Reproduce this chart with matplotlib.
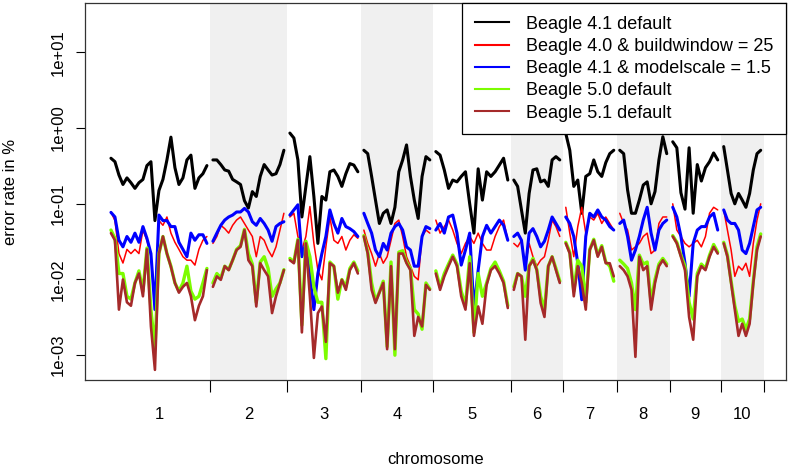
import matplotlib
matplotlib.use("Agg")
import matplotlib.pyplot as plt
from matplotlib.lines import Line2D
import numpy as np

plt.rcParams['font.family'] = ['Liberation Sans', 'DejaVu Sans']

# chromosome layout (Mb)
chromosomes = ['1', '2', '3', '4', '5', '6', '7', '8', '9', '10']
chrom_len = [306, 231, 222, 216, 234, 156, 162, 159, 153, 129]
window_margin = 9  # first / last window centre from the chromosome end

labels = ['Beagle 4.1 default', 'Beagle 4.0 & buildwindow = 25',
          'Beagle 4.1 & modelscale = 1.5', 'Beagle 5.0 default', 'Beagle 5.1 default']

# error rate in %, one list per chromosome (windows evenly spread along it)
beagle41_default = [
    [0.40, 0.36, 0.24, 0.18, 0.22, 0.19, 0.16, 0.19, 0.21, 0.32, 0.36, 0.06, 0.15, 0.21, 0.38, 0.76, 0.30, 0.18, 0.22, 0.38, 0.44, 0.16, 0.22, 0.25, 0.32],
    [0.38, 0.38, 0.33, 0.28, 0.27, 0.21, 0.195, 0.18, 0.11, 0.088, 0.145, 0.125, 0.23, 0.33, 0.28, 0.24, 0.25, 0.33, 0.51],
    [0.86, 0.74, 0.38, 0.067, 0.17, 0.42, 0.125, 0.03, 0.125, 0.112, 0.265, 0.28, 0.23, 0.17, 0.25, 0.34, 0.325, 0.265],
    [0.51, 0.46, 0.23, 0.112, 0.055, 0.075, 0.083, 0.055, 0.09, 0.265, 0.38, 0.6, 0.23, 0.112, 0.064, 0.23, 0.42, 0.38],
    [0.49, 0.44, 0.28, 0.16, 0.206, 0.195, 0.23, 0.265, 0.1, 0.041, 0.29, 0.112, 0.265, 0.23, 0.265, 0.325, 0.4, 0.206],
    [0.206, 0.17, 0.083, 0.041, 0.137, 0.28, 0.29, 0.195, 0.206, 0.17, 0.38, 0.42, 0.38],
    [0.85, 0.51, 0.17, 0.206, 0.075, 0.23, 0.25, 0.38, 0.265, 0.23, 0.35, 0.46, 0.51],
    [0.51, 0.46, 0.152, 0.075, 0.075, 0.112, 0.177, 0.195, 0.1, 0.145, 0.38, 0.77, 0.46],
    [0.66, 0.55, 0.14, 0.085, 0.55, 0.075, 0.33, 0.2, 0.3, 0.36, 0.47, 0.38],
    [0.57, 0.28, 0.137, 0.1, 0.137, 0.112, 0.09, 0.137, 0.28, 0.46, 0.51],
]
beagle40_bw25 = [
    [0.078, 0.06, 0.022, 0.0165, 0.025, 0.022, 0.025, 0.022, 0.045, 0.033, 0.02, 0.006, 0.06, 0.052, 0.067, 0.041, 0.031, 0.025, 0.02, 0.018, 0.018, 0.0155, 0.025, 0.033, 0.037],
    [0.030, 0.037, 0.052, 0.047, 0.041, 0.052, 0.061, 0.067, 0.055, 0.045, 0.037, 0.020, 0.037, 0.033, 0.0245, 0.020, 0.027, 0.045, 0.075],
    [0.067, 0.075, 0.037, 0.0245, 0.037, 0.092, 0.03, 0.0133, 0.0099, 0.027, 0.067, 0.033, 0.030, 0.037, 0.0245, 0.033, 0.039, 0.035],
    [0.045, 0.03, 0.022, 0.015, 0.022, 0.0164, 0.02, 0.033, 0.055, 0.061, 0.037, 0.02, 0.015, 0.011, 0.0099, 0.037, 0.045, 0.041],
    [0.061, 0.041, 0.05, 0.061, 0.045, 0.03, 0.022, 0.03, 0.037, 0.03, 0.041, 0.03, 0.0245, 0.0245, 0.037, 0.05, 0.061, 0.033],
    [0.03, 0.027, 0.033, 0.015, 0.03, 0.02, 0.015, 0.018, 0.02, 0.033, 0.061, 0.05, 0.037],
    [0.09, 0.041, 0.02, 0.05, 0.09, 0.041, 0.067, 0.061, 0.075, 0.055, 0.067, 0.055, 0.045],
    [0.075, 0.055, 0.045, 0.0245, 0.027, 0.03, 0.037, 0.041, 0.022, 0.0245, 0.055, 0.067, 0.067],
    [0.1, 0.045, 0.037, 0.03, 0.027, 0.03, 0.033, 0.027, 0.037, 0.075, 0.09, 0.083],
    [0.083, 0.045, 0.0245, 0.011, 0.015, 0.0133, 0.0164, 0.011, 0.03, 0.061, 0.1],
]
beagle41_ms15 = [
    [0.077, 0.067, 0.033, 0.027, 0.037, 0.031, 0.041, 0.031, 0.05, 0.035, 0.022, 0.004, 0.071, 0.06, 0.06, 0.05, 0.05, 0.031, 0.025, 0.02, 0.041, 0.033, 0.039, 0.039, 0.030],
    [0.032, 0.041, 0.052, 0.061, 0.067, 0.071, 0.078, 0.078, 0.087, 0.078, 0.058, 0.052, 0.064, 0.055, 0.045, 0.032, 0.05, 0.055, 0.058],
    [0.071, 0.083, 0.097, 0.02, 0.03, 0.011, 0.004, 0.012, 0.022, 0.037, 0.083, 0.055, 0.041, 0.064, 0.05, 0.047, 0.043, 0.037],
    [0.075, 0.055, 0.041, 0.0245, 0.02, 0.03, 0.0245, 0.041, 0.05, 0.055, 0.045, 0.027, 0.0245, 0.015, 0.015, 0.037, 0.05, 0.047],
    [0.045, 0.055, 0.041, 0.067, 0.071, 0.041, 0.0155, 0.0245, 0.041, 0.004, 0.0133, 0.037, 0.052, 0.041, 0.05, 0.061, 0.052, 0.033],
    [0.037, 0.041, 0.033, 0.0133, 0.041, 0.047, 0.037, 0.027, 0.032, 0.045, 0.067, 0.055, 0.045],
    [0.067, 0.055, 0.037, 0.0164, 0.0054, 0.037, 0.075, 0.067, 0.083, 0.067, 0.061, 0.05, 0.045],
    [0.055, 0.061, 0.037, 0.018, 0.0245, 0.037, 0.061, 0.09, 0.041, 0.0245, 0.045, 0.055, 0.061],
    [0.09, 0.067, 0.037, 0.0164, 0.006, 0.03, 0.045, 0.05, 0.05, 0.067, 0.075, 0.045],
    [0.083, 0.061, 0.055, 0.055, 0.045, 0.0245, 0.022, 0.03, 0.05, 0.083, 0.09],
]
beagle50_default = [
    [0.045, 0.035, 0.012, 0.012, 0.006, 0.0055, 0.009, 0.013, 0.007, 0.026, 0.004, 0.0012, 0.022, 0.037, 0.022, 0.015, 0.009, 0.007, 0.009, 0.015, 0.007, 0.0055, 0.006, 0.009, 0.014],
    [0.009, 0.012, 0.0105, 0.015, 0.0135, 0.018, 0.025, 0.028, 0.046, 0.022, 0.016, 0.005, 0.017, 0.02, 0.014, 0.006, 0.0075, 0.009, 0.0135],
    [0.019, 0.017, 0.034, 0.0025, 0.032, 0.02, 0.008, 0.005, 0.005, 0.0009, 0.017, 0.015, 0.0055, 0.01, 0.008, 0.014, 0.017, 0.013],
    [0.038, 0.023, 0.009, 0.0052, 0.0068, 0.0095, 0.0013, 0.017, 0.001, 0.023, 0.024, 0.017, 0.014, 0.004, 0.0035, 0.0022, 0.009, 0.0075],
    [0.013, 0.008, 0.012, 0.016, 0.021, 0.016, 0.007, 0.0045, 0.02, 0.002, 0.012, 0.006, 0.009, 0.014, 0.017, 0.013, 0.0095, 0.0045],
    [0.008, 0.012, 0.011, 0.006, 0.015, 0.019, 0.0135, 0.006, 0.004, 0.015, 0.02, 0.014, 0.0095],
    [0.031, 0.023, 0.007, 0.018, 0.015, 0.005, 0.025, 0.034, 0.021, 0.028, 0.017, 0.015, 0.0095],
    [0.018, 0.016, 0.014, 0.009, 0.004, 0.021, 0.016, 0.017, 0.005, 0.01, 0.016, 0.019, 0.016],
    [0.038, 0.031, 0.021, 0.015, 0.005, 0.003, 0.012, 0.016, 0.014, 0.021, 0.029, 0.023],
    [0.031, 0.021, 0.0095, 0.0045, 0.0028, 0.003, 0.0022, 0.003, 0.0095, 0.027, 0.04],
]
beagle51_default = [
    [0.041, 0.033, 0.004, 0.01, 0.005, 0.0045, 0.009, 0.012, 0.006, 0.025, 0.0024, 0.00064, 0.022, 0.037, 0.022, 0.0147, 0.009, 0.0067, 0.008, 0.009, 0.006, 0.0029, 0.0045, 0.006, 0.0133],
    [0.008, 0.011, 0.0099, 0.015, 0.0133, 0.018, 0.0245, 0.027, 0.045, 0.018, 0.015, 0.0044, 0.0164, 0.0133, 0.011, 0.0036, 0.006, 0.0089, 0.0133],
    [0.018, 0.0164, 0.033, 0.002, 0.03, 0.006, 0.00092, 0.0036, 0.0044, 0.0015, 0.0164, 0.015, 0.0067, 0.0099, 0.0073, 0.0133, 0.0164, 0.012],
    [0.037, 0.022, 0.0073, 0.0049, 0.0067, 0.009, 0.0012, 0.015, 0.0012, 0.022, 0.022, 0.0164, 0.0133, 0.0018, 0.0032, 0.0024, 0.0085, 0.0073],
    [0.012, 0.0073, 0.011, 0.015, 0.02, 0.015, 0.006, 0.004, 0.0164, 0.0018, 0.0044, 0.0026, 0.0085, 0.0133, 0.015, 0.012, 0.009, 0.0042],
    [0.0073, 0.012, 0.011, 0.0016, 0.015, 0.018, 0.0133, 0.0049, 0.0032, 0.015, 0.02, 0.0133, 0.009],
    [0.03, 0.022, 0.006, 0.015, 0.009, 0.004, 0.0245, 0.033, 0.02, 0.027, 0.0164, 0.0164, 0.011],
    [0.015, 0.0133, 0.011, 0.0073, 0.00095, 0.02, 0.0133, 0.015, 0.004, 0.009, 0.015, 0.018, 0.015],
    [0.037, 0.03, 0.02, 0.0133, 0.0032, 0.0016, 0.011, 0.015, 0.0133, 0.02, 0.027, 0.022],
    [0.03, 0.02, 0.009, 0.004, 0.0018, 0.0026, 0.0018, 0.0026, 0.009, 0.0245, 0.037],
]

series = [beagle41_default, beagle40_bw25, beagle41_ms15, beagle50_default, beagle51_default]
colors = ['black', 'red', 'blue', '#7cfc00', '#a52a2a']
widths = [2.2, 1.1, 2.2, 2.4, 1.9]

ends = np.cumsum(chrom_len)
starts = ends - np.array(chrom_len)
total = ends[-1]

fig = plt.figure(figsize=(7.89, 4.66), dpi=100)
ax = fig.add_axes([85 / 789, 1 - 380 / 466, 701 / 789, 377 / 466])

# grey background for every second chromosome
for i in range(1, 10, 2):
    ax.axvspan(starts[i], ends[i], color='#f0f0f0', lw=0, zorder=0)

for vals, col, lw in zip(series, colors, widths):
    for c in range(len(chromosomes)):
        x = np.linspace(starts[c] + window_margin, ends[c] - window_margin, len(vals[c]))
        ax.plot(x, vals[c], color=col, lw=lw, solid_joinstyle='round',
                solid_capstyle='round', zorder=2)

ax.set_yscale('log')
ax.set_ylim(4.7e-4, 45)
ax.set_xlim(-0.035 * total, total * 1.034)

ax.set_yticks([1e-3, 1e-2, 1e-1, 1, 10])
ax.set_yticklabels(['1e-03', '1e-02', '1e-01', '1e+00', '1e+01'],
                   rotation=90, va='center')
ax.yaxis.set_minor_locator(matplotlib.ticker.NullLocator())
ax.tick_params(axis='y', length=6.5, width=0.8, pad=7, labelsize=12)

ax.set_xticks(ends)
ax.set_xticklabels([])
ax.set_xticks((starts + ends) / 2, minor=True)
ax.set_xticklabels(chromosomes, minor=True)
ax.tick_params(axis='x', which='major', length=8.6, width=0.8)
ax.tick_params(axis='x', which='minor', length=0, pad=19.5, labelsize=12)

for sp in ax.spines.values():
    sp.set_color('#333333')
    sp.set_linewidth(0.9)

ax.set_xlabel('chromosome', fontsize=12, va='center')
ax.xaxis.set_label_coords(0.5, (380 - 460) / 377)
ax.set_ylabel('error rate in %', fontsize=12, va='center')
ax.yaxis.set_label_coords((11 - 85) / 701, 0.5)

handles = [Line2D([], [], color=c, lw=1.5) for c in colors]
leg = ax.legend(handles, labels, loc='upper right', bbox_to_anchor=(1, 1),
                borderaxespad=0, fontsize=13, handlelength=1.9, handletextpad=0.94,
                labelspacing=0.29, borderpad=0.7, fancybox=False, framealpha=1,
                edgecolor='black')
leg.get_frame().set_linewidth(0.9)

fig.savefig('out.png', dpi=100)
